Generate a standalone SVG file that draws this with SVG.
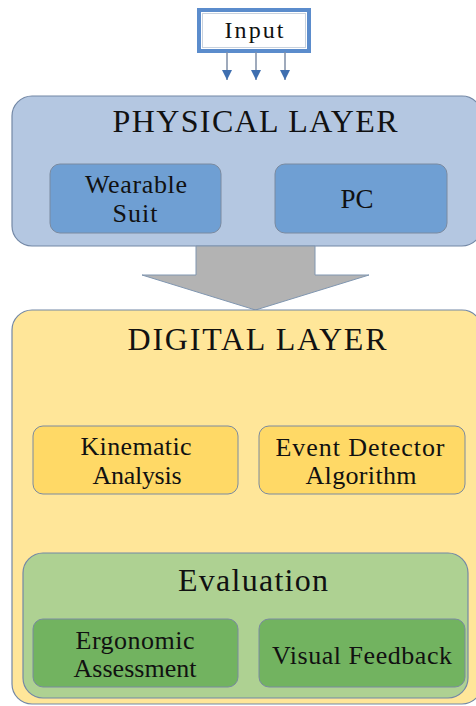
<svg xmlns="http://www.w3.org/2000/svg" width="476" height="706" viewBox="0 0 476 706">
<defs>
<style>
text{font-family:"Liberation Serif","Times New Roman",serif;fill:#111;text-anchor:middle}
.t{font-size:32px}
.b{font-size:26px}
.layer{stroke:#7388a6;stroke-width:1.2}
.box{stroke:#7a8aa0;stroke-width:1}
</style>
<marker id="ah" viewBox="0 0 10 10" refX="10" refY="5" markerWidth="10" markerHeight="10" markerUnits="userSpaceOnUse" orient="auto">
<path d="M0,0 L10,5 L0,10 Z" fill="#3f6fb0"/>
</marker>
</defs>
<rect width="476" height="706" fill="#fff"/>

<g id="input">
<rect x="199" y="10" width="110" height="41" fill="#fff" stroke="#5b8ccc" stroke-width="4"/>
<rect x="202.5" y="13.5" width="103" height="34" fill="none" stroke="#c8d2de" stroke-width="1"/>
<text x="254" y="38" style="font-size:24px" textLength="59" lengthAdjust="spacing">Input</text>
</g>

<g id="connectors">
<line x1="227" y1="52" x2="227" y2="80" stroke="#7f8ea6" stroke-width="1.5" marker-end="url(#ah)"/>
<line x1="256" y1="52" x2="256" y2="80" stroke="#7f8ea6" stroke-width="1.5" marker-end="url(#ah)"/>
<line x1="285" y1="52" x2="285" y2="80" stroke="#7f8ea6" stroke-width="1.5" marker-end="url(#ah)"/>
</g>

<g id="physical-layer">
<rect class="layer" x="12" y="96" width="470" height="150" rx="20" fill="#b4c7e1"/>
<text class="t" x="255" y="132" textLength="285" lengthAdjust="spacing">PHYSICAL LAYER</text>
</g>
<g id="wearable-suit">
<rect class="box" x="50" y="164" width="171" height="69" rx="10" fill="#6f9fd3"/>
<text class="b" x="136" y="193" textLength="102" lengthAdjust="spacing">Wearable</text>
<text class="b" x="135" y="222" textLength="45" lengthAdjust="spacing">Suit</text>
</g>
<g id="pc">
<rect class="box" x="275" y="164" width="172" height="69" rx="10" fill="#6f9fd3"/>
<text class="b" x="357" y="208" style="font-size:27px">PC</text>
</g>

<g id="transfer-arrow">
<path d="M196,246 L315,246 L315,275 L369,275 L255.5,310 L142,275 L196,275 Z" fill="#b3b3b3" stroke="#8096b0" stroke-width="1"/>
</g>

<g id="digital-layer">
<rect class="layer" x="12" y="310" width="470" height="394" rx="20" fill="#ffe699"/>
<text class="t" x="257" y="350" textLength="259" lengthAdjust="spacing">DIGITAL LAYER</text>
</g>
<g id="kinematic-analysis">
<rect class="box" x="33" y="426" width="205" height="68" rx="10" fill="#ffd966"/>
<text class="b" x="136" y="455" textLength="111" lengthAdjust="spacing">Kinematic</text>
<text class="b" x="137" y="484" textLength="89" lengthAdjust="spacing">Analysis</text>
</g>
<g id="event-detector">
<rect class="box" x="259" y="426" width="206" height="68" rx="10" fill="#ffd966"/>
<text class="b" x="360" y="456" textLength="169" lengthAdjust="spacing">Event Detector</text>
<text class="b" x="361" y="484" textLength="111" lengthAdjust="spacing">Algorithm</text>
</g>

<g id="evaluation">
<rect class="layer" x="23" y="553" width="445" height="145" rx="20" fill="#aed192"/>
<text class="t" x="253" y="591" textLength="150" lengthAdjust="spacing">Evaluation</text>
</g>
<g id="ergonomic-assessment">
<rect class="box" x="33" y="619" width="205" height="68" rx="10" fill="#72b360"/>
<text class="b" x="135" y="649" textLength="119" lengthAdjust="spacing">Ergonomic</text>
<text class="b" x="135" y="677" textLength="123" lengthAdjust="spacing">Assessment</text>
</g>
<g id="visual-feedback">
<rect class="box" x="259" y="619" width="206" height="68" rx="10" fill="#72b360"/>
<text class="b" x="362" y="664" textLength="180" lengthAdjust="spacing">Visual Feedback</text>
</g>
</svg>
